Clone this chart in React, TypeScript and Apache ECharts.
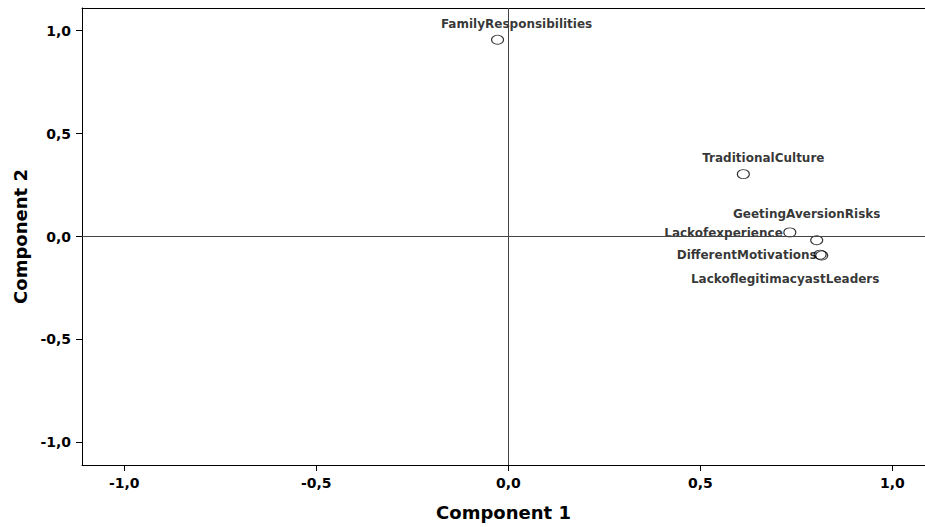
import React, { useEffect, useRef } from "react";
import * as echarts from "echarts";

const names = [
  "FamilyResponsibilities",
  "TraditionalCulture",
  "GeetingAversionRisks",
  "Lackofexperience",
  "DifferentMotivations",
  "LackoflegitimacyastLeaders",
];
const comp1 = [-0.028, 0.612, 0.803, 0.733, 0.816, 0.812];
const comp2 = [0.956, 0.303, -0.018, 0.02, -0.092, -0.088];
const labelOffsets: [number, number][] = [
  [19, -16],
  [20, -16],
  [-10, -26],
  [-7, 1],
  [-5, 0],
  [-35, 24],
];
const labelAligns = ["center", "center", "center", "right", "right", "center"];
const tickValues = [-1, -0.5, 0, 0.5, 1];

const FONT = "'DejaVu Sans', 'Liberation Sans', Arial, sans-serif";
const fmt = (v: number) => v.toFixed(1).replace(".", ",");

export default function App() {
  const ref = useRef<HTMLDivElement>(null);
  useEffect(() => {
    const chart = echarts.init(ref.current!, null, { renderer: "svg" });
    const data = names.map((n, i) => ({
      name: n,
      value: [comp1[i], comp2[i]],
      label: {
        show: true,
        formatter: n,
        position: "inside",
        offset: labelOffsets[i],
        align: labelAligns[i],
        verticalAlign: "middle",
        color: "#000",
        fontFamily: FONT,
        fontWeight: "bold",
        fontSize: 12,
      },
    }));
    const axisCommon = {
      type: "value",
      splitLine: { show: false },
      axisLine: { show: true, onZero: false, lineStyle: { color: "#000", width: 1 } },
      axisTick: { show: true, length: 6, customValues: tickValues, lineStyle: { color: "#000" } },
      axisLabel: {
        customValues: tickValues,
        formatter: fmt,
        color: "#000",
        fontFamily: FONT,
        fontWeight: "bold",
        fontSize: 14,
        margin: 11,
      },
      nameLocation: "middle",
      nameTextStyle: { color: "#000", fontFamily: FONT, fontWeight: "bold", fontSize: 18 },
    };
    chart.setOption({
      animation: false,
      backgroundColor: "#fff",
      grid: {
        left: 82,
        top: 8,
        right: 0,
        bottom: 62,
        show: false,
        containLabel: false,
      },
      xAxis: [
        { ...axisCommon, min: -1.11, max: 1.085, name: "Component 1", nameGap: 38 },
        {
          type: "value",
          position: "top",
          min: -1.11,
          max: 1.085,
          axisLine: { show: true, onZero: false, lineStyle: { color: "#000", width: 1 } },
          axisTick: { show: false },
          axisLabel: { show: false },
          splitLine: { show: false },
        },
      ],
      yAxis: { ...axisCommon, min: -1.11, max: 1.11, name: "Component 2", nameGap: 50 },
      series: [
        {
          type: "scatter",
          xAxisIndex: 0,
          symbol: "circle",
          symbolSize: [12, 9],
          itemStyle: { color: "rgba(0,0,0,0)", borderColor: "#000", borderWidth: 1 },
          data,
          markLine: {
            silent: true,
            symbol: "none",
            label: { show: false },
            lineStyle: { color: "#444", width: 1, type: "solid" },
            data: [{ xAxis: 0 }, { yAxis: 0 }],
          },
        },
      ],
    });
    return () => chart.dispose();
  }, []);
  return (
    <div
      ref={ref}
      style={{ position: "fixed", left: 0, top: 0, width: 925, height: 527 }}
    />
  );
}
